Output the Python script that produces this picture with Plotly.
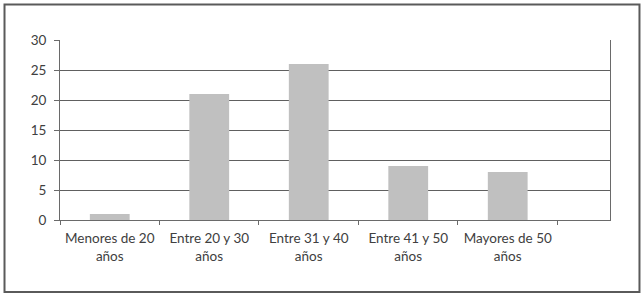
import plotly.graph_objects as go

categories = ["Menores de 20<br>años", "Entre 20 y 30<br>años", "Entre 31 y 40<br>años",
              "Entre 41 y 50<br>años", "Mayores de 50<br>años"]
values = [1, 21, 26, 9, 8]
y_ticks = [0, 5, 10, 15, 20, 25, 30]

FONT = "Lato, 'Open Sans', sans-serif"
TXT = "#404040"

fig = go.Figure(go.Bar(x=categories, y=values, marker=dict(color="#c0c0c0", line=dict(width=0)),
                       hoverinfo="x+y"))

fig.update_layout(
    width=642, height=297,
    margin=dict(l=60, r=32, t=40, b=77),
    paper_bgcolor="white", plot_bgcolor="white",
    bargap=0.6, showlegend=False,
    font=dict(family=FONT, size=13, color=TXT),
    shapes=[dict(type="rect", xref="paper", yref="paper",
                 x0=-0.1009, x1=1.0536, y0=-0.40, y1=1.1972,
                 line=dict(color="#5a5a5a", width=2), fillcolor="rgba(0,0,0,0)", layer="below")],
)
fig.update_xaxes(
    type="category", range=[-0.5, 5.028],
    showline=True, linecolor="#6a6a6a", linewidth=1,
    ticks="outside", tickson="boundaries", ticklen=4, tickcolor="#6a6a6a",
    showgrid=False, ticklabelstandoff=6,
    tickfont=dict(family=FONT, size=13.5, color=TXT),
)
fig.update_yaxes(
    range=[0, 30], tickvals=y_ticks,
    showline=True, mirror=True, linecolor="#6a6a6a", linewidth=1,
    ticks="outside", ticklen=5, tickcolor="#6a6a6a",
    showgrid=True, gridcolor="#606060", gridwidth=1,
    zeroline=False, ticklabelstandoff=5,
    tickfont=dict(family=FONT, size=13.5, color=TXT),
)
fig.write_html("out.html", config={"displayModeBar": False},
               post_script="document.body.style.margin='0';")
